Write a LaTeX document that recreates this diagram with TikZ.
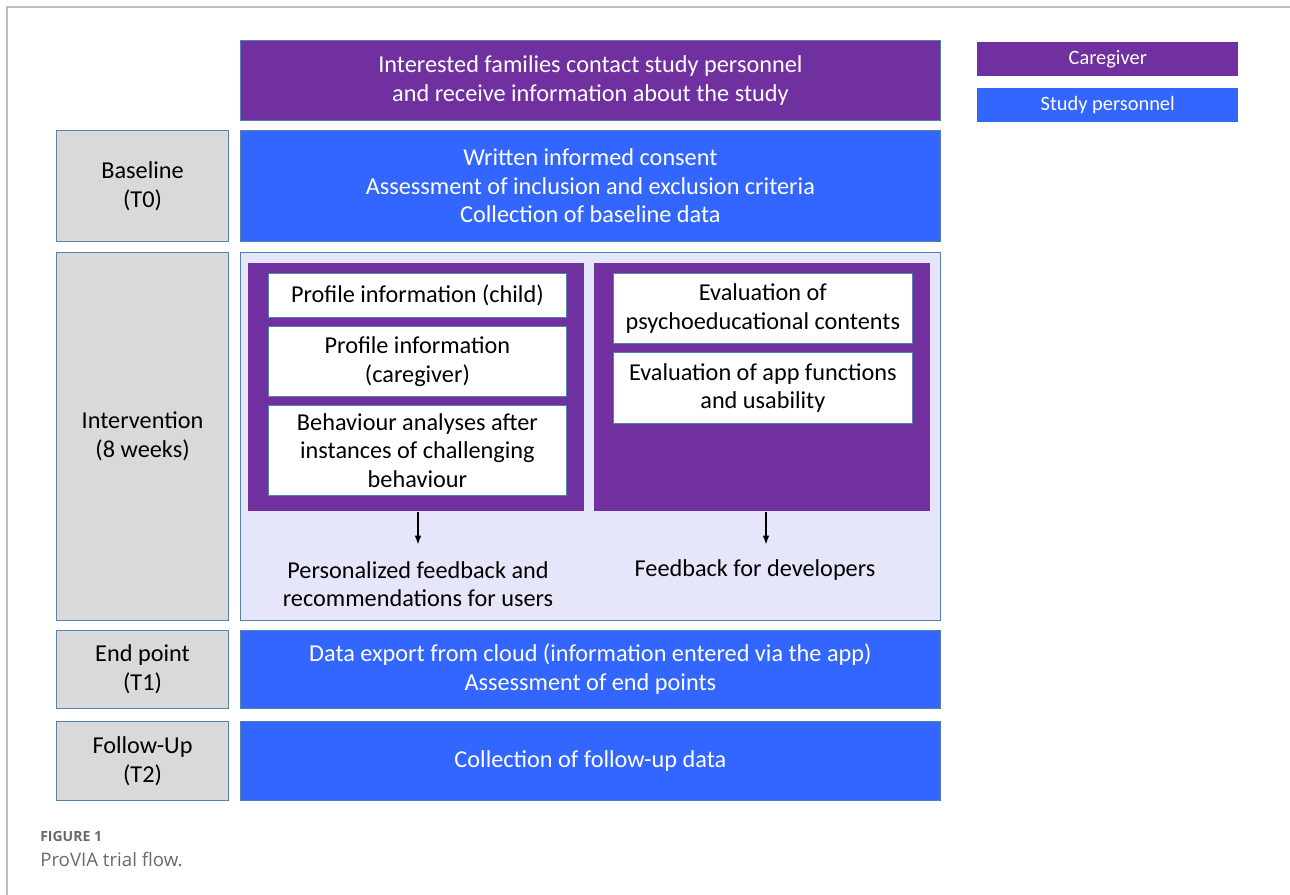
\documentclass[tikz,border=0pt]{standalone}
\usepackage{fontspec}
\setmainfont{Carlito}
\newfontfamily\capfont{Open Sans}
\usetikzlibrary{arrows.meta}

\definecolor{cgpurple}{RGB}{112,48,160}
\definecolor{spblue}{RGB}{51,102,255}
\definecolor{phasegray}{RGB}{217,217,217}
\definecolor{lavender}{RGB}{230,230,250}
\definecolor{boxline}{RGB}{84,130,172}
\definecolor{framegray}{RGB}{190,190,190}
\definecolor{capgray}{RGB}{105,105,105}

\tikzset{
  base/.style={anchor=north west, align=center, inner sep=0pt,
    font=\fontsize{18.2}{21.5}\selectfont},
  phase/.style={base, draw=boxline, line width=0.8pt, fill=phasegray,
    minimum width=129pt},
  caregiver/.style={base, draw=boxline, line width=0.6pt, fill=cgpurple,
    text=white},
  personnel/.style={base, draw=boxline, line width=0.6pt, fill=spblue,
    text=white, minimum width=525pt},
  appbox/.style={base, draw=boxline, line width=0.6pt, fill=white},
  legend/.style={base, minimum width=195.75pt, minimum height=25.5pt,
    text=white, font=\fontsize{15.3}{17}\selectfont},
  arr/.style={-{Latex[length=7pt,width=5pt]}, line width=1.4pt}
}

\begin{document}
\begin{tikzpicture}[x=0.75pt, y=-0.75pt]
  \useasboundingbox (0,0) rectangle (1290,895);

  % Rahmen
  \draw[framegray, line width=1pt] (7,895) -- (7,7) -- (1290,7);

  % Kontaktaufnahme
  \node[caregiver, minimum width=525pt, minimum height=60pt] (contact) at (240,40)
    {Interested families contact study personnel\\and receive information about the study};

  % Baseline
  \node[phase, minimum height=83.25pt] (t0) at (56,130) {Baseline\\(T0)};
  \node[personnel, minimum height=83.25pt] (consent) at (240,130)
    {Written informed consent\\Assessment of inclusion and exclusion criteria\\Collection of baseline data};

  % Intervention
  \node[phase, minimum height=276pt] (interv) at (56,252) {Intervention\\(8 weeks)};
  \node[base, draw=boxline, line width=0.8pt, fill=lavender,
    minimum width=525pt, minimum height=276pt] (app) at (240,252) {};

  \node[caregiver, draw=none, minimum width=252pt, minimum height=186pt] (lpanel) at (248,263) {};
  \node[appbox, minimum width=223.5pt, minimum height=33pt] (child) at (268,273)
    {Profile information (child)};
  \node[appbox, minimum width=223.5pt, minimum height=52.5pt] (cgprofile) at (268,326)
    {Profile information\\(caregiver)};
  \node[appbox, minimum width=223.5pt, minimum height=67.5pt] (behav) at (268,405)
    {Behaviour analyses after\\instances of challenging\\behaviour};

  \node[caregiver, draw=none, minimum width=252pt, minimum height=186pt] (rpanel) at (594,263) {};
  \node[appbox, minimum width=224.25pt, minimum height=52.5pt] (psycho) at (613,273)
    {Evaluation of\\psychoeducational contents};
  \node[appbox, minimum width=224.25pt, minimum height=53.25pt] (usab) at (613,352)
    {Evaluation of app functions\\and usability};

  \node[base, anchor=center] (fbusers) at (418,584)
    {Personalized feedback and\\recommendations for users};
  \node[base, anchor=center] (fbdev) at (755,570) {Feedback for developers};

  \coordinate (uend) at (418,545);
  \coordinate (dend) at (766,545);
  \draw[arr] (lpanel.south -| uend) -- (uend);
  \draw[arr] (rpanel.south -| dend) -- (dend);

  % Endpunkt
  \node[phase, minimum height=58.5pt] (t1) at (56,630) {End point\\(T1)};
  \node[personnel, minimum height=58.5pt] (export) at (240,630)
    {Data export from cloud (information entered via the app)\\Assessment of end points};

  % Follow-Up
  \node[phase, minimum height=59.25pt] (t2) at (56,721) {Follow-Up\\(T2)};
  \node[personnel, minimum height=59.25pt] (followup) at (240,721)
    {Collection of follow-up data};

  % Legende
  \node[legend, fill=cgpurple] (lgcg) at (977,42) {Caregiver};
  \node[legend, fill=spblue] (lgsp) at (977,88) {Study personnel};

  % Bildunterschrift
  \node[anchor=base west, inner sep=0pt, text=capgray,
    font=\capfont\bfseries\fontsize{10.5}{12}\selectfont] (figlabel) at (40,841) {FIGURE 1};
  \node[anchor=base west, inner sep=0pt, text=capgray,
    font=\capfont\fontsize{14}{16}\selectfont] (figcap) at (40,866) {ProVIA trial flow.};
\end{tikzpicture}
\end{document}
